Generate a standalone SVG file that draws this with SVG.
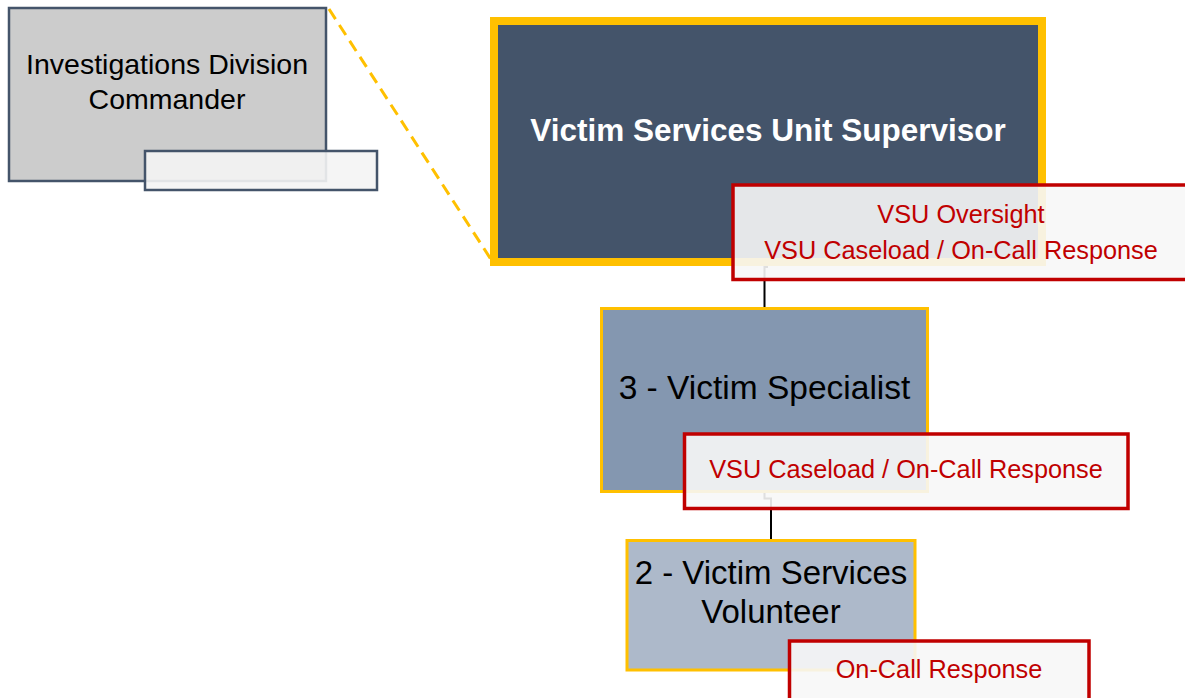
<svg xmlns="http://www.w3.org/2000/svg" width="1185" height="698" viewBox="0 0 1185 698">
  <style>
    text { font-family: "Liberation Sans", Arial, sans-serif; text-anchor: middle; }
    .node-dark { fill: #44546a; stroke: #ffc000; stroke-width: 8; }
    .node-mid { fill: #8497b0; stroke: #ffc000; stroke-width: 3; }
    .node-light { fill: #adb9ca; stroke: #ffc000; stroke-width: 3; }
    .node-gray { fill: #cccccc; stroke: #44546a; stroke-width: 2.5; }
    .tag-gray { fill: #f4f4f4; fill-opacity: 0.9; stroke: #44546a; stroke-width: 2.5; }
    .tag-red { fill: #f7f7f7; fill-opacity: 0.9; stroke: #c00000; stroke-width: 3.5; }
    .t-black { fill: #000000; }
    .t-white { fill: #ffffff; font-weight: bold; }
    .t-red { fill: #c00000; font-size: 25.3px; }
    .link { fill: none; stroke: #000000; stroke-width: 2; }
    .dotted { fill: none; stroke: #ffc000; stroke-width: 3; stroke-dasharray: 12 7; }
  </style>

  <!-- reporting lines -->
  <g id="connectors">
    <line class="dotted" x1="329" y1="9" x2="492" y2="261"/>
    <path class="link" d="M768,267 H764.5 V308"/>
    <path class="link" d="M764.5,492 V498.5 H771 V539"/>
  </g>

  <g id="investigations-commander">
    <rect class="node-gray" x="9" y="8" width="317" height="173"/>
    <rect class="tag-gray" x="145" y="151" width="232" height="39"/>
    <text class="t-black" x="167" y="74" font-size="28.5">Investigations Division</text>
    <text class="t-black" x="167" y="109" font-size="28.5">Commander</text>
  </g>

  <g id="vsu-supervisor">
    <rect class="node-dark" x="494" y="21" width="548" height="241"/>
    <text class="t-white" x="768" y="141" font-size="31.5">Victim Services Unit Supervisor</text>
    <rect class="tag-red" x="733" y="185" width="460" height="94.5"/>
    <text class="t-red" x="961" y="223">VSU Oversight</text>
    <text class="t-red" x="961" y="259">VSU Caseload / On-Call Response</text>
  </g>

  <g id="victim-specialist">
    <rect class="node-mid" x="601.5" y="308.5" width="326" height="183"/>
    <text class="t-black" x="764.5" y="399" font-size="33.5">3 - Victim Specialist</text>
    <rect class="tag-red" x="684.5" y="434" width="443.5" height="74.5"/>
    <text class="t-red" x="906" y="478">VSU Caseload / On-Call Response</text>
  </g>

  <g id="victim-services-volunteer">
    <rect class="node-light" x="627" y="540.5" width="288" height="129.5"/>
    <text class="t-black" x="771" y="584" font-size="33">2 - Victim Services</text>
    <text class="t-black" x="771" y="623" font-size="33">Volunteer</text>
    <rect class="tag-red" x="789.5" y="641" width="299.5" height="70"/>
    <text class="t-red" x="939" y="678">On-Call Response</text>
  </g>
</svg>
